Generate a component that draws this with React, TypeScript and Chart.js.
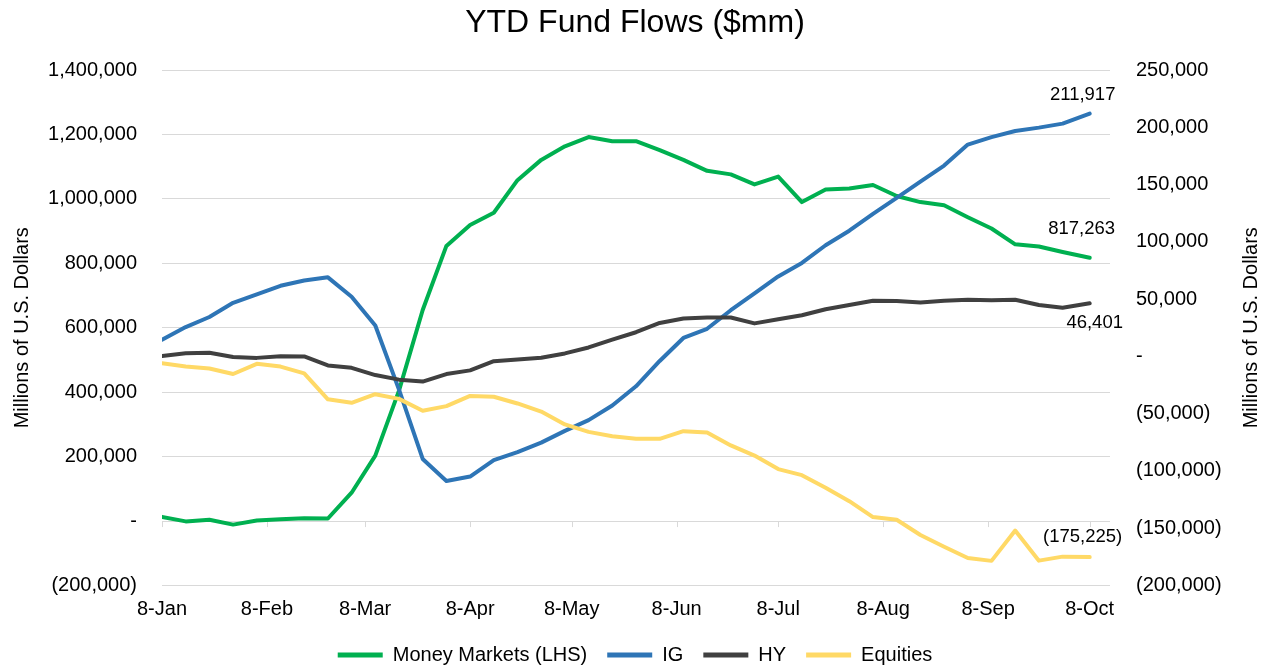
import React, { useEffect, useRef } from "react";
import { Chart, registerables } from "chart.js";

Chart.register(...registerables);

const FONT = "'Liberation Sans', Arial, Helvetica, sans-serif";

// Weekly observation dates (2020)
const dates = [
  "2020-01-08", "2020-01-15", "2020-01-22", "2020-01-29",
  "2020-02-05", "2020-02-12", "2020-02-19", "2020-02-26",
  "2020-03-04", "2020-03-11", "2020-03-18", "2020-03-25",
  "2020-04-01", "2020-04-08", "2020-04-15", "2020-04-22", "2020-04-29",
  "2020-05-06", "2020-05-13", "2020-05-20", "2020-05-27",
  "2020-06-03", "2020-06-10", "2020-06-17", "2020-06-24",
  "2020-07-01", "2020-07-08", "2020-07-15", "2020-07-22", "2020-07-29",
  "2020-08-05", "2020-08-12", "2020-08-19", "2020-08-26",
  "2020-09-02", "2020-09-09", "2020-09-16", "2020-09-23", "2020-09-30",
  "2020-10-08",
];

const tickDates = [
  "2020-01-08", "2020-02-08", "2020-03-08", "2020-04-08", "2020-05-08",
  "2020-06-08", "2020-07-08", "2020-08-08", "2020-09-08", "2020-10-08",
];
const tickLabels = [
  "8-Jan", "8-Feb", "8-Mar", "8-Apr", "8-May",
  "8-Jun", "8-Jul", "8-Aug", "8-Sep", "8-Oct",
];

// Money Markets (LHS)
const moneyMarkets = [
  13000, -1000, 4000, -11000, 2000, 6000, 9000, 8000,
  88000, 203000, 405000, 655000, 854000, 919000, 957000, 1058000,
  1121000, 1163000, 1192000, 1179000, 1179000, 1151000, 1121000, 1087000,
  1076000, 1045000, 1069000, 990000, 1029000, 1032000, 1043000, 1009000,
  990000, 980000, 943000, 908000, 859000, 852000, 835000, 817263,
];

// IG (RHS)
const ig = [
  14500, 25600, 34400, 46800, 54200, 61600, 66300, 69000,
  52100, 27000, -29000, -89500, -108700, -104900, -90500, -83600,
  -75300, -65000, -55600, -42900, -26100, -4000, 16100, 24100,
  40300, 55100, 69800, 81600, 97000, 109700, 124400, 138300,
  152500, 166600, 184900, 191400, 196700, 199700, 203200, 211917,
];

// HY (RHS)
const hy = [
  300, 2700, 3200, -500, -1300, 200, 0, -7900,
  -10000, -16300, -20300, -22000, -15400, -12200, -4200, -2700,
  -1200, 2600, 7800, 14700, 21100, 29200, 33000, 33900,
  33900, 28800, 32400, 35900, 41200, 44800, 48600, 48300,
  47100, 48600, 49500, 48900, 49500, 44800, 42400, 46401,
];

// Equities (RHS)
const equities = [
  -5900, -8800, -10600, -15400, -6500, -8900, -14800, -37500,
  -40500, -33000, -37100, -47400, -43400, -34500, -35200, -41100,
  -48200, -59400, -65900, -69700, -71800, -72000, -65300, -66500,
  -77700, -86600, -98400, -103700, -114600, -126400, -140300, -142600,
  -155900, -166200, -176000, -178500, -152000, -178300, -174800, -175225,
];

const leftMin = -200000;
const leftMax = 1400000;
const leftStep = 200000;
const rightMin = -200000;
const rightMax = 250000;
const rightStep = 50000;

const DAY = 86400000;
const base = Date.parse(dates[0] + "T00:00:00Z");
const dayOffset = (d: string) =>
  Math.round((Date.parse(d + "T00:00:00Z") - base) / DAY);

const fmt = (v: number) => {
  if (v === 0) return "-";
  const s = Math.abs(Math.round(v)).toLocaleString("en-US");
  return v < 0 ? `(${s})` : s;
};

const GREEN = "#00B050";
const BLUE = "#2E75B6";
const DARK = "#404040";
const YELLOW = "#FFD966";
const GRID = "#d9d9d9";

const endLabelOffsets = [
  { dx: -8, dy: -29 },
  { dx: -7, dy: -19 },
  { dx: 5, dy: 20 },
  { dx: -7, dy: -20 },
];

const xTickMarks = {
  id: "xTickMarks",
  beforeDatasetsDraw(chart: any) {
    const x = chart.scales.x;
    const y = chart.scales.yL;
    const y0 = y.getPixelForValue(0);
    const ctx = chart.ctx;
    ctx.save();
    ctx.strokeStyle = GRID;
    ctx.lineWidth = 1;
    ctx.beginPath();
    ctx.moveTo(chart.chartArea.left, Math.round(y0) + 0.5);
    ctx.lineTo(chart.chartArea.right, Math.round(y0) + 0.5);
    x.ticks.forEach((t: any) => {
      const px = Math.round(x.getPixelForValue(t.value)) + 0.5;
      ctx.moveTo(px, y0);
      ctx.lineTo(px, y0 + 6);
    });
    ctx.stroke();
    ctx.restore();
  },
};

const endLabels = {
  id: "endLabels",
  afterDatasetsDraw(chart: any) {
    const ctx = chart.ctx;
    ctx.save();
    ctx.font = `18.5px ${FONT}`;
    ctx.fillStyle = "#000";
    ctx.textAlign = "center";
    ctx.textBaseline = "middle";
    chart.data.datasets.forEach((ds: any, i: number) => {
      const meta = chart.getDatasetMeta(i);
      const last = meta.data[meta.data.length - 1];
      const v = ds.data[ds.data.length - 1].y;
      const off = endLabelOffsets[i];
      ctx.fillText(fmt(v), last.x + off.dx, last.y + off.dy);
    });
    ctx.restore();
  },
};

const rightTitle = {
  id: "rightTitle",
  afterDraw(chart: any) {
    const ctx = chart.ctx;
    const ca = chart.chartArea;
    ctx.save();
    ctx.font = `20px ${FONT}`;
    ctx.fillStyle = "#000";
    ctx.textAlign = "center";
    ctx.textBaseline = "middle";
    ctx.translate(1251, (ca.top + ca.bottom) / 2);
    ctx.rotate(-Math.PI / 2);
    ctx.fillText("Millions of U.S. Dollars", 0, 0);
    ctx.restore();
  },
};

export default function App() {
  const ref = useRef<HTMLCanvasElement | null>(null);

  useEffect(() => {
    if (!ref.current) return;
    const toPts = (arr: number[]) =>
      arr.map((v, i) => ({ x: dayOffset(dates[i]), y: v }));
    const mk = (label: string, data: number[], color: string, axis: string, order: number) => ({
      label,
      data: toPts(data),
      borderColor: color,
      backgroundColor: color,
      borderWidth: 4,
      pointRadius: 0,
      pointHoverRadius: 0,
      tension: 0,
      borderJoinStyle: "round" as const,
      borderCapStyle: "round" as const,
      yAxisID: axis,
      order,
    });

    const chart = new Chart(ref.current, {
      type: "line",
      data: {
        datasets: [
          mk("Money Markets (LHS)", moneyMarkets, GREEN, "yL", 4),
          mk("IG", ig, BLUE, "yR", 3),
          mk("HY", hy, DARK, "yR", 2),
          mk("Equities", equities, YELLOW, "yR", 1),
        ],
      },
      options: {
        responsive: false,
        animation: false,
        devicePixelRatio: 1,
        layout: { padding: { top: 0, left: 0, right: 0, bottom: -4 } },
        font: { family: FONT },
        plugins: {
          title: {
            display: true,
            text: "YTD Fund Flows ($mm)",
            color: "#000",
            font: { family: FONT, size: 32, weight: "normal" },
            padding: { top: 4, bottom: 27.6 },
          },
          legend: {
            display: true,
            position: "bottom",
            reverse: true,
            labels: {
              color: "#000",
              font: { family: FONT, size: 20 },
              boxWidth: 45,
              boxHeight: 5,
              padding: 20,
              generateLabels: (c: any) =>
                (Chart.defaults.plugins.legend.labels as any)
                  .generateLabels(c)
                  .map((l: any) => ({ ...l, lineWidth: 0, fillStyle: l.strokeStyle })),
            },
          },
          tooltip: { enabled: false },
        },
        scales: {
          x: {
            type: "linear",
            min: 0,
            max: 280,
            grid: { display: false, drawTicks: false },
            border: { display: false },
            afterBuildTicks: (s: any) => {
              s.ticks = tickDates.map((d) => ({ value: dayOffset(d) }));
            },
            afterFit: (s: any) => {
              s.height = 39.5;
            },
            ticks: {
              autoSkip: false,
              maxRotation: 0,
              padding: 12,
              color: "#000",
              font: { family: FONT, size: 20 },
              callback: (_v: any, i: number) => tickLabels[i],
            },
          },
          yL: {
            type: "linear",
            position: "left",
            min: leftMin,
            max: leftMax,
            grid: { color: GRID, lineWidth: 1, drawTicks: false, tickLength: 0 },
            border: { display: false },
            afterFit: (s: any) => {
              s.width = 162;
            },
            ticks: {
              stepSize: leftStep,
              padding: 25,
              color: "#000",
              font: { family: FONT, size: 20 },
              callback: (v: any) => fmt(Number(v)),
            },
            title: {
              display: true,
              text: "Millions of U.S. Dollars",
              color: "#000",
              font: { family: FONT, size: 20 },
              padding: { top: 10, bottom: 0 },
            },
          },
          yR: {
            type: "linear",
            position: "right",
            min: rightMin,
            max: rightMax,
            grid: { display: false, drawOnChartArea: false, drawTicks: false, tickLength: 0 },
            border: { display: false },
            afterFit: (s: any) => {
              s.width = 160;
            },
            ticks: {
              stepSize: rightStep,
              padding: 26,
              color: "#000",
              font: { family: FONT, size: 20 },
              callback: (v: any) => fmt(Number(v)),
            },
          },
        },
      } as any,
      plugins: [xTickMarks, endLabels, rightTitle],
    });
    return () => chart.destroy();
  }, []);

  return (
    <div style={{ position: "absolute", left: 0, top: 0, width: 1270, height: 671, background: "#fff" }}>
      <canvas ref={ref} width={1270} height={671} style={{ display: "block" }} />
    </div>
  );
}
